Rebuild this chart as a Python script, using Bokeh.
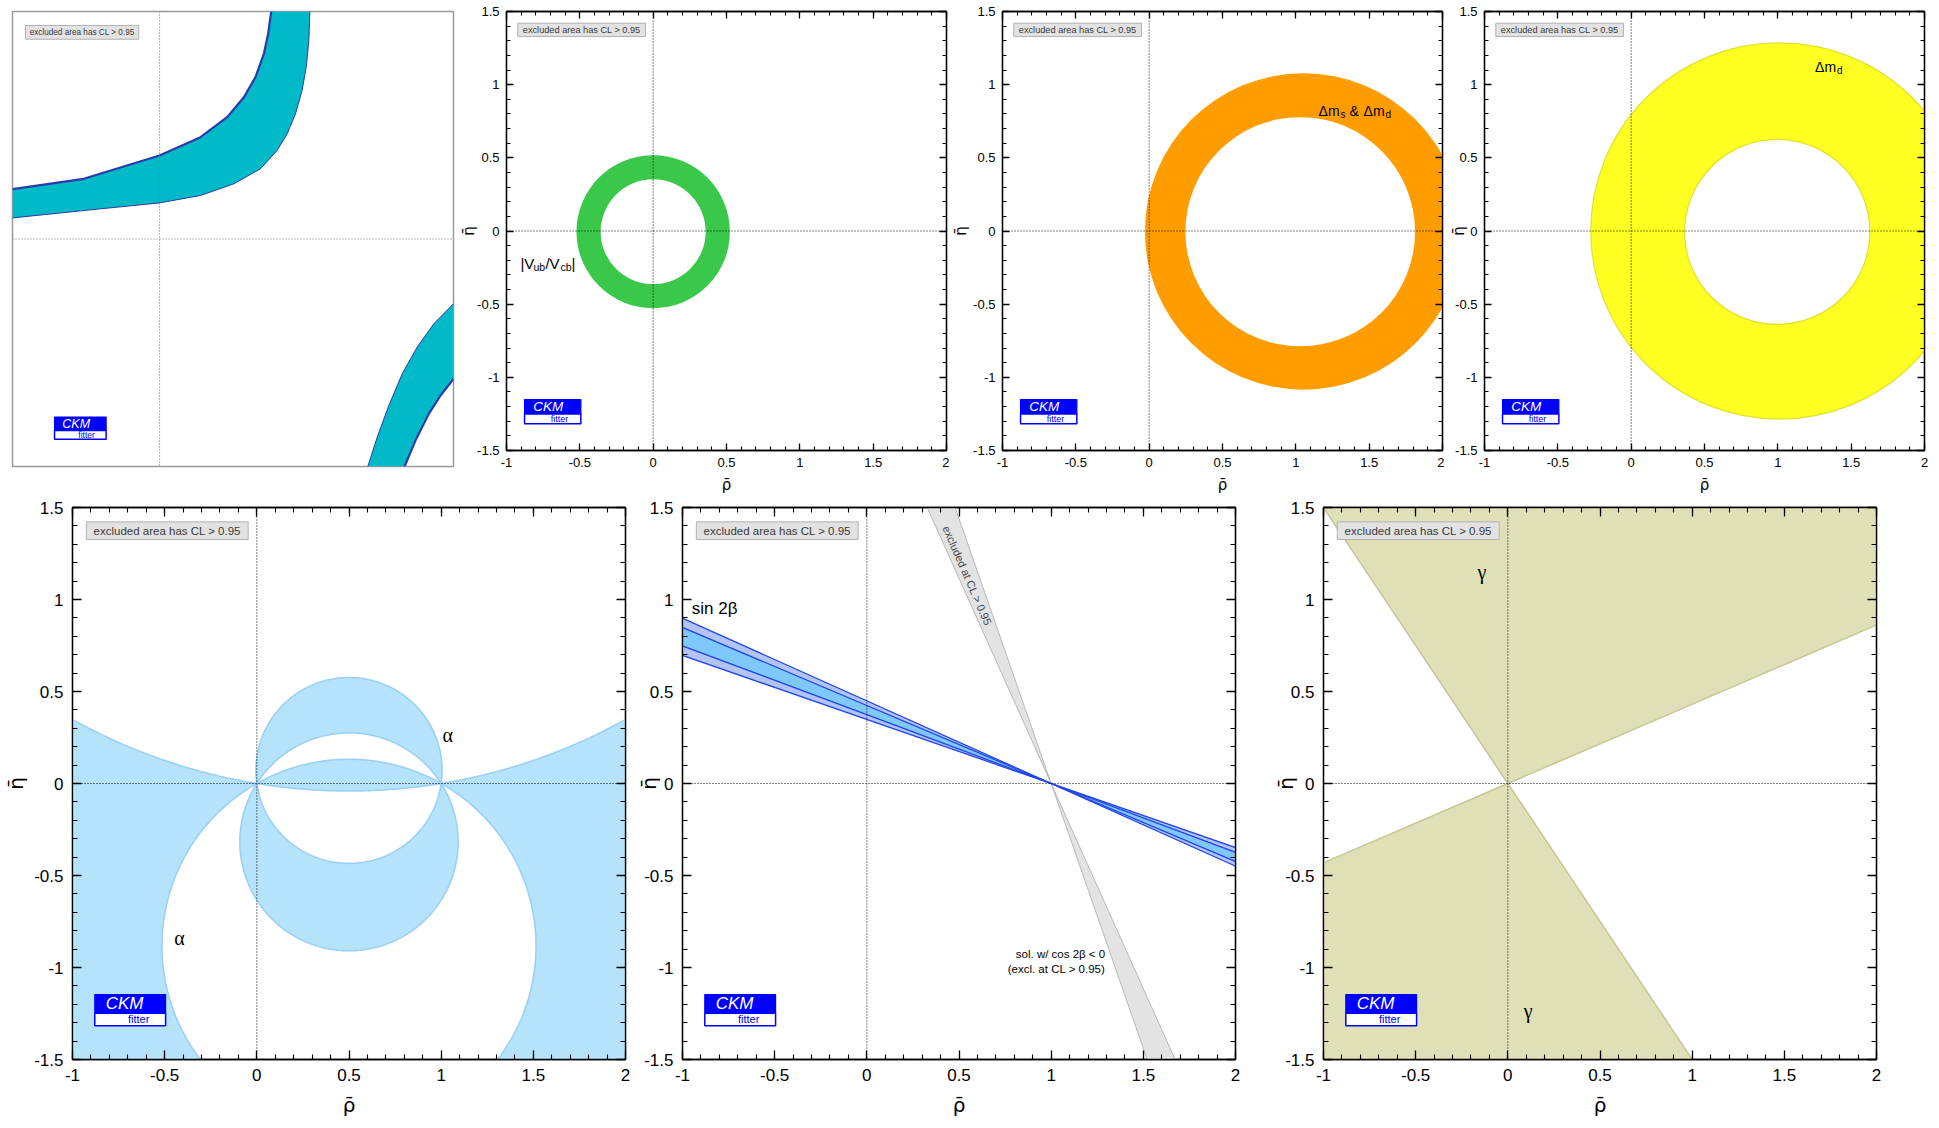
import numpy as np
from bokeh.plotting import figure
from bokeh.layouts import column, row
from bokeh.models import Range1d, FixedTicker, CustomJSTickFormatter, LinearAxis, Span
from bokeh.core.properties import value
from bokeh.embed import file_html
from bokeh.resources import INLINE

# ------------------------------------------------------------------ data
RHO_RANGE = (-1.0, 2.0)
ETA_RANGE = (-1.5, 1.5)
RHO_TICKS = [-1, -0.5, 0, 0.5, 1, 1.5, 2]
ETA_TICKS = [-1.5, -1, -0.5, 0, 0.5, 1, 1.5]
MINOR_STEP = 0.1
RHO_LABEL = "\u03c1\u0304"
ETA_LABEL = "\u03b7\u0304"
EXCL_TEXT = "excluded area has CL > 0.95"

# panel 1: eps_K hyperbolic band (boundary points)
EPSK_A_TOP_RHO = [-1.0, -0.515, 0.0, 0.279, 0.460, 0.574, 0.653, 0.710, 0.739, 0.760]
EPSK_A_TOP_ETA = [0.329, 0.397, 0.551, 0.671, 0.803, 0.935, 1.067, 1.221, 1.353, 1.50]
EPSK_A_BOT_RHO = [-1.0, -0.401, 0.0, 0.279, 0.506, 0.687, 0.800, 0.868, 0.925, 0.970, 0.998, 1.016, 1.023]
EPSK_A_BOT_ETA = [0.139, 0.199, 0.238, 0.287, 0.364, 0.463, 0.584, 0.693, 0.825, 0.979, 1.133, 1.309, 1.50]
EPSK_B_TOP_RHO = [1.417, 1.481, 1.560, 1.651, 1.753, 1.866, 2.0]
EPSK_B_TOP_ETA = [-1.5, -1.307, -1.098, -0.889, -0.713, -0.559, -0.427]
EPSK_B_BOT_RHO = [1.667, 1.741, 1.832, 1.912, 2.0]
EPSK_B_BOT_ETA = [-1.5, -1.329, -1.153, -1.032, -0.922]

# panel 2: |Vub/Vcb| ring
VUB_CENTER = (0.0, -0.005)
VUB_RADII = (0.358, 0.523)
# panel 3: dm_s & dm_d ring
DMS_CENTER_OUT = (1.052, -0.003)
DMS_R_OUT = 1.081
DMS_CENTER_IN = (1.030, -0.005)
DMS_R_IN = 0.783
# panel 4: dm_d ring
DMD_CENTER_OUT = (1.010, 0.0)
DMD_R_OUT = 1.285
DMD_CENTER_IN = (0.996, -0.006)
DMD_R_IN = 0.632

# panel 5: alpha -- circles through (0,0) and (1,0), given by the eta of their centre
ALPHA_C1 = 0.071    # top 0.576
ALPHA_C2 = -0.317   # top 0.275
ALPHA_C5 = -0.883   # top 0.132
ALPHA_C4 = 3.05     # bottom -0.041

# panel 6: sin 2beta, lines through (1,0): eta = slope * (rho - 1)
SIN2B_OUTER = (-0.449, -0.348)
SIN2B_INNER = (-0.424, -0.374)
COS2B_NEG = (-2.23, -2.88)

# panel 7: gamma wedge edge directions (degrees, from the origin)
GAMMA_EDGES_DEG = (23.3, 123.7)

# ------------------------------------------------------------------ helpers
SANS = "Liberation Sans"
LABEL_FONT = "DejaVu Sans"
SERIF = "Liberation Serif"
MINORS_RHO = [round(v, 2) for v in np.arange(RHO_RANGE[0], RHO_RANGE[1] + 1e-9, MINOR_STEP)]
MINORS_ETA = [round(v, 2) for v in np.arange(ETA_RANGE[0], ETA_RANGE[1] + 1e-9, MINOR_STEP)]


def style_axis(ax, ticks, minors, labels, tick_fs, maj, mnr, standoff):
    ax.ticker = FixedTicker(ticks=ticks, minor_ticks=minors)
    ax.major_tick_in = maj
    ax.major_tick_out = 0
    ax.minor_tick_in = mnr
    ax.minor_tick_out = 0
    ax.axis_line_color = "black"
    ax.axis_line_width = 1.3
    ax.major_tick_line_color = "black"
    ax.major_tick_line_width = 1.3
    ax.minor_tick_line_color = "black"
    ax.minor_tick_line_width = 1.1
    if labels:
        ax.formatter = CustomJSTickFormatter(code="return String(Math.round(tick*10)/10);")
        ax.major_label_text_font = SANS
        ax.major_label_text_font_size = tick_fs
        ax.major_label_text_color = "black"
        ax.major_label_standoff = standoff
    else:
        ax.formatter = CustomJSTickFormatter(code="return '';")
        ax.major_label_text_font_size = "0px"
        ax.major_label_standoff = 0


def make_panel(fw, fh, bl, br, bt, bb, big, ylab_standoff, axes=True):
    kw = dict(frame_width=fw, frame_height=fh,
              x_range=Range1d(*RHO_RANGE), y_range=Range1d(*ETA_RANGE),
              output_backend="svg", toolbar_location=None,
              min_border_left=bl, min_border_right=br,
              min_border_top=bt, min_border_bottom=bb,
              background_fill_color="white", border_fill_color="white")
    if not axes:
        kw.update(x_axis_type=None, y_axis_type=None)
    p = figure(**kw)
    p.grid.visible = False
    if not axes:
        p.outline_line_color = "#9a9a9a"
        p.outline_line_width = 1.5
        return p
    p.outline_line_color = "black"
    p.outline_line_width = 1.3
    tick_fs = "17px" if big else "13px"
    lab_fs = "20px" if big else "15px"
    maj, mnr = (9, 5) if big else (7, 4)
    st = 9 if big else 7
    bottom = p.below[0]
    left = p.left[0]
    style_axis(bottom, RHO_TICKS, MINORS_RHO, True, tick_fs, maj, mnr, st)
    style_axis(left, ETA_TICKS, MINORS_ETA, True, tick_fs, maj, mnr, st)
    bottom.axis_label = RHO_LABEL
    left.axis_label = ETA_LABEL
    for ax in (bottom, left):
        ax.axis_label_text_font = LABEL_FONT
        ax.axis_label_text_font_style = "normal"
        ax.axis_label_text_font_size = lab_fs
        ax.axis_label_text_color = "black"
    bottom.axis_label_standoff = 9 if big else 6
    left.axis_label_standoff = ylab_standoff
    top = LinearAxis()
    style_axis(top, RHO_TICKS, MINORS_RHO, False, tick_fs, maj, mnr, 0)
    p.add_layout(top, "above")
    right = LinearAxis()
    style_axis(right, ETA_TICKS, MINORS_ETA, False, tick_fs, maj, mnr, 0)
    p.add_layout(right, "right")
    return p


def dotted_axes(p, color="black", width=1.0):
    p.add_layout(Span(location=0, dimension="height", line_color=color,
                      line_dash="1 2", line_width=width))
    p.add_layout(Span(location=0, dimension="width", line_color=color,
                      line_dash="1 2", line_width=width))


def excl_box(p, l, r, b, t, fs):
    p.quad(left=[l], right=[r], bottom=[b], top=[t], fill_color="#e2e2e2",
           line_color="#b2b2b2", line_width=1)
    p.text(x=[(l + r) / 2], y=[(b + t) / 2], text=[EXCL_TEXT], text_align="center",
           text_baseline="middle", text_font=value(SANS), text_font_size=fs,
           text_color="#3a3a3a")


def logo(p, l, r, t, m, b, fs_big, fs_small):
    p.quad(left=[l], right=[r], top=[t], bottom=[m], fill_color="#0000ff",
           line_color="#0000ff", line_width=1.2)
    p.quad(left=[l], right=[r], top=[m], bottom=[b], fill_color="white",
           line_color="#0000ff", line_width=1.5)
    p.text(x=[l + 0.42 * (r - l)], y=[(t + m) / 2], text=["CKM"], text_align="center",
           text_baseline="middle", text_font=value(SANS), text_font_size=fs_big,
           text_font_style="italic", text_color="white")
    p.text(x=[l + 0.62 * (r - l)], y=[(m + b) / 2], text=["fitter"], text_align="center",
           text_baseline="middle", text_font=value(SANS), text_font_size=fs_small,
           text_color="#0000ff")


def pieces(p, x, y, parts, font=SANS, color="black"):
    for txt, dx, dy, fs in parts:
        p.text(x=[x], y=[y], text=[txt], x_offset=dx, y_offset=dy, text_align="left",
               text_baseline="alphabetic", text_font=value(font), text_font_size=fs,
               text_color=color)


def std_decor(p, big):
    if big:
        excl_box(p, -0.925, -0.047, 1.326, 1.422, "11.5px")
        logo(p, -0.879, -0.495, -1.147, -1.248, -1.316, "17px", "11px")
    else:
        excl_box(p, -0.923, -0.052, 1.329, 1.420, "9.2px")
        logo(p, -0.877, -0.493, -1.152, -1.250, -1.318, "13.5px", "9px")


# alpha geometry helpers: circle through (0,0) and (1,0) with centre (0.5, c)
def _radius(c):
    return float(np.hypot(0.5, c))


def _arc(c, t0, t1, n=260):
    r = _radius(c)
    t = np.linspace(t0, t1, n)
    return 0.5 + r * np.cos(t), c + r * np.sin(t)


def _angles(c):
    return np.arctan2(-c, -0.5), np.arctan2(-c, 0.5)


def arc_upper(c):
    a, b = _angles(c)
    return _arc(c, a, a - ((a - b) % (2 * np.pi)))


def arc_lower(c):
    a, b = _angles(c)
    return _arc(c, a, a + ((b - a) % (2 * np.pi)))


# ------------------------------------------------------------------ top row
# panel 1 : eps_K (no axes)
p1 = make_panel(441, 455, 12, 2, 11, 34, False, 0, axes=False)
for top_r, top_e, bot_r, bot_e, thick_top in [
        (EPSK_A_TOP_RHO, EPSK_A_TOP_ETA, EPSK_A_BOT_RHO, EPSK_A_BOT_ETA, True),
        (EPSK_B_TOP_RHO, EPSK_B_TOP_ETA, EPSK_B_BOT_RHO, EPSK_B_BOT_ETA, False)]:
    xs = list(top_r) + list(bot_r)[::-1]
    ys = list(top_e) + list(bot_e)[::-1]
    p1.patch(xs, ys, fill_color="#00bac8", line_color=None)
    p1.line(top_r, top_e, line_color="#2b3aa8", line_width=2.2 if thick_top else 1.0,
            line_join="round")
    p1.line(bot_r, bot_e, line_color="#2b3aa8", line_width=1.0 if thick_top else 2.2,
            line_join="round")
dotted_axes(p1, color="#7a7a7a", width=1.2)
excl_box(p1, -0.912, -0.141, 1.317, 1.408, "8.2px")
logo(p1, -0.714, -0.363, -1.174, -1.262, -1.321, "12.5px", "8.5px")

# panel 2 : |Vub/Vcb|
p2 = make_panel(440, 439, 51, 3, 10, 51, False, -4)
p2.ellipse(x=[VUB_CENTER[0]], y=[VUB_CENTER[1]], width=[2 * VUB_RADII[1]],
           height=[2 * VUB_RADII[1]], fill_color="#3ac84a", line_color=None)
p2.ellipse(x=[VUB_CENTER[0]], y=[VUB_CENTER[1]], width=[2 * VUB_RADII[0]],
           height=[2 * VUB_RADII[0]], fill_color="white", line_color=None)
dotted_axes(p2)
std_decor(p2, False)
pieces(p2, -0.905, -0.219, [("|V", 0, 0, "15px"), ("ub", 13, 4, "10.5px"),
                            ("/V", 25, 0, "15px"), ("cb", 40, 4, "10.5px"),
                            ("|", 51, 0, "15px")])

# panel 3 : dm_s & dm_d
p3 = make_panel(440, 439, 53, 2, 10, 51, False, 0)
p3.ellipse(x=[DMS_CENTER_OUT[0]], y=[DMS_CENTER_OUT[1]], width=[2 * DMS_R_OUT],
           height=[2 * DMS_R_OUT], fill_color="#ff9c00", line_color=None)
p3.ellipse(x=[DMS_CENTER_IN[0]], y=[DMS_CENTER_IN[1]], width=[2 * DMS_R_IN],
           height=[2 * DMS_R_IN], fill_color="white", line_color=None)
dotted_axes(p3)
std_decor(p3, False)
pieces(p3, 1.155, 0.822, [("\u0394m", 0, 0, "14px"), ("s", 22, 4, "10px"),
                          ("&", 31, 0, "14px"), ("\u0394m", 45, 0, "14px"),
                          ("d", 67, 4, "10px")])

# panel 4 : dm_d
p4 = make_panel(440, 439, 40, 7, 10, 51, False, -16)
p4.ellipse(x=[DMD_CENTER_OUT[0]], y=[DMD_CENTER_OUT[1]], width=[2 * DMD_R_OUT],
           height=[2 * DMD_R_OUT], fill_color="#ffff22", line_color="#e0e030", line_width=1.2)
p4.ellipse(x=[DMD_CENTER_IN[0]], y=[DMD_CENTER_IN[1]], width=[2 * DMD_R_IN],
           height=[2 * DMD_R_IN], fill_color="white", line_color="#e0e030", line_width=1.2)
dotted_axes(p4)
std_decor(p4, False)
pieces(p4, 1.254, 1.124, [("\u0394m", 0, 0, "14px"), ("d", 22, 4, "10px")])

# ------------------------------------------------------------------ bottom row
# panel 5 : alpha
p5 = make_panel(553, 552, 72, 8, 7, 69, True, 3)
ux1, uy1 = arc_upper(ALPHA_C1)
ux2, uy2 = arc_upper(ALPHA_C2)
lx1, ly1 = arc_lower(ALPHA_C1)
lx2, ly2 = arc_lower(ALPHA_C2)
ux5, uy5 = arc_upper(ALPHA_C5)
lx4, ly4 = arc_lower(ALPHA_C4)
polys_x, polys_y = [], []
polys_x.append(np.concatenate([ux1, ux2[::-1]])); polys_y.append(np.concatenate([uy1, uy2[::-1]]))
polys_x.append(np.concatenate([lx2, lx1[::-1]])); polys_y.append(np.concatenate([ly2, ly1[::-1]]))
polys_x.append(np.concatenate([ux5, lx4[::-1]])); polys_y.append(np.concatenate([uy5, ly4[::-1]]))
# wings (outside both the C4 and C5 circles)
r4, r5 = _radius(ALPHA_C4), _radius(ALPHA_C5)
a4, b4 = _angles(ALPHA_C4)
a5, b5 = _angles(ALPHA_C5)
t_l4 = -np.arccos(-1.9 / r4)
t_r4 = -np.arccos(1.9 / r4)
t_l5 = np.pi + np.arcsin((1.75 + ALPHA_C5) / r5)
t_r5 = -np.arcsin((1.75 + ALPHA_C5) / r5)
wx4, wy4 = _arc(ALPHA_C4, a4, t_l4)
wx5, wy5 = _arc(ALPHA_C5, a5, t_l5)
polys_x.append(np.concatenate([wx4, [-1.6, -1.6], wx5[::-1]]))
polys_y.append(np.concatenate([wy4, [wy4[-1], -1.8], wy5[::-1]]))
vx4, vy4 = _arc(ALPHA_C4, b4, t_r4)
vx5, vy5 = _arc(ALPHA_C5, b5, t_r5)
polys_x.append(np.concatenate([vx4, [2.6, 2.6], vx5[::-1]]))
polys_y.append(np.concatenate([vy4, [vy4[-1], -1.8], vy5[::-1]]))
p5.patches([list(x) for x in polys_x], [list(y) for y in polys_y],
           fill_color="#b4e3fb", line_color="#9cd0f5", line_width=1.6)
dotted_axes(p5)
std_decor(p5, True)
p5.text(x=[1.035, -0.42], y=[0.265, -0.84], text=["\u03b1", "\u03b1"], text_align="center",
        text_baseline="middle", text_font=value(SERIF), text_font_size="20px",
        text_color="black")

# panel 6 : sin 2beta
p6 = make_panel(553, 552, 49, 36, 7, 69, True, -20)
gx = [1 + 1.8 / COS2B_NEG[0], 1 - 1.8 / COS2B_NEG[0], 1 - 1.8 / COS2B_NEG[1], 1 + 1.8 / COS2B_NEG[1]]
gy = [1.8, -1.8, -1.8, 1.8]
p6.patch(gx, gy, fill_color="#e3e3e3", line_color="#a8a8a8", line_width=0.8)


def bowtie(slopes):
    sa, sb = slopes
    return ([-1.2, 2.2, 2.2, -1.2],
            [sa * (-2.2), sa * 1.2, sb * 1.2, sb * (-2.2)])


bx, by = bowtie(SIN2B_OUTER)
p6.patch(bx, by, fill_color="#b2c4f6", line_color="#2246e6", line_width=1.3)
bx, by = bowtie(SIN2B_INNER)
p6.patch(bx, by, fill_color="#7ec8fb", line_color="#2246e6", line_width=1.3)
dotted_axes(p6)
std_decor(p6, True)
p6.text(x=[-0.95], y=[0.95], text=["sin 2\u03b2"], text_align="left", text_baseline="middle",
        text_font=value(SANS), text_font_size="17px", text_color="black")
p6.text(x=[0.545], y=[1.13], text=["excluded at CL > 0.95"], angle=[np.deg2rad(-66.5)],
        text_align="center", text_baseline="middle", text_font=value(SANS),
        text_font_size="11px", text_color="#4a4a4a")
p6.text(x=[1.293, 1.293], y=[-0.927, -1.008],
        text=["sol. w/ cos 2\u03b2 < 0", "(excl. at CL > 0.95)"], text_align="right",
        text_baseline="middle", text_font=value(SANS), text_font_size="11.5px",
        text_color="black")

# panel 7 : gamma
p7 = make_panel(553, 552, 51, 56, 7, 69, True, -16)
g0, g1 = np.deg2rad(GAMMA_EDGES_DEG[0]), np.deg2rad(GAMMA_EDGES_DEG[1])
R = 4.0
wx, wy = [], []
for off in (0.0, np.pi):
    angs = [g0 + off, (g0 + g1) / 2 + off, g1 + off]
    wx.append([0.0] + [R * np.cos(a) for a in angs])
    wy.append([0.0] + [R * np.sin(a) for a in angs])
p7.patches(wx, wy, fill_color="#e0e0b8", line_color="#c6c694", line_width=1.5)
dotted_axes(p7)
std_decor(p7, True)
p7.text(x=[-0.14, 0.11], y=[1.15, -1.235], text=["\u03b3", "\u03b3"], text_align="center",
        text_baseline="middle", text_font=value(SERIF), text_font_size="20px",
        text_color="black")

layout = column(row(p1, p2, p3, p4), row(p5, p6, p7))
open("out.html", "w").write(file_html(layout, INLINE, title="CKM constraints"))
